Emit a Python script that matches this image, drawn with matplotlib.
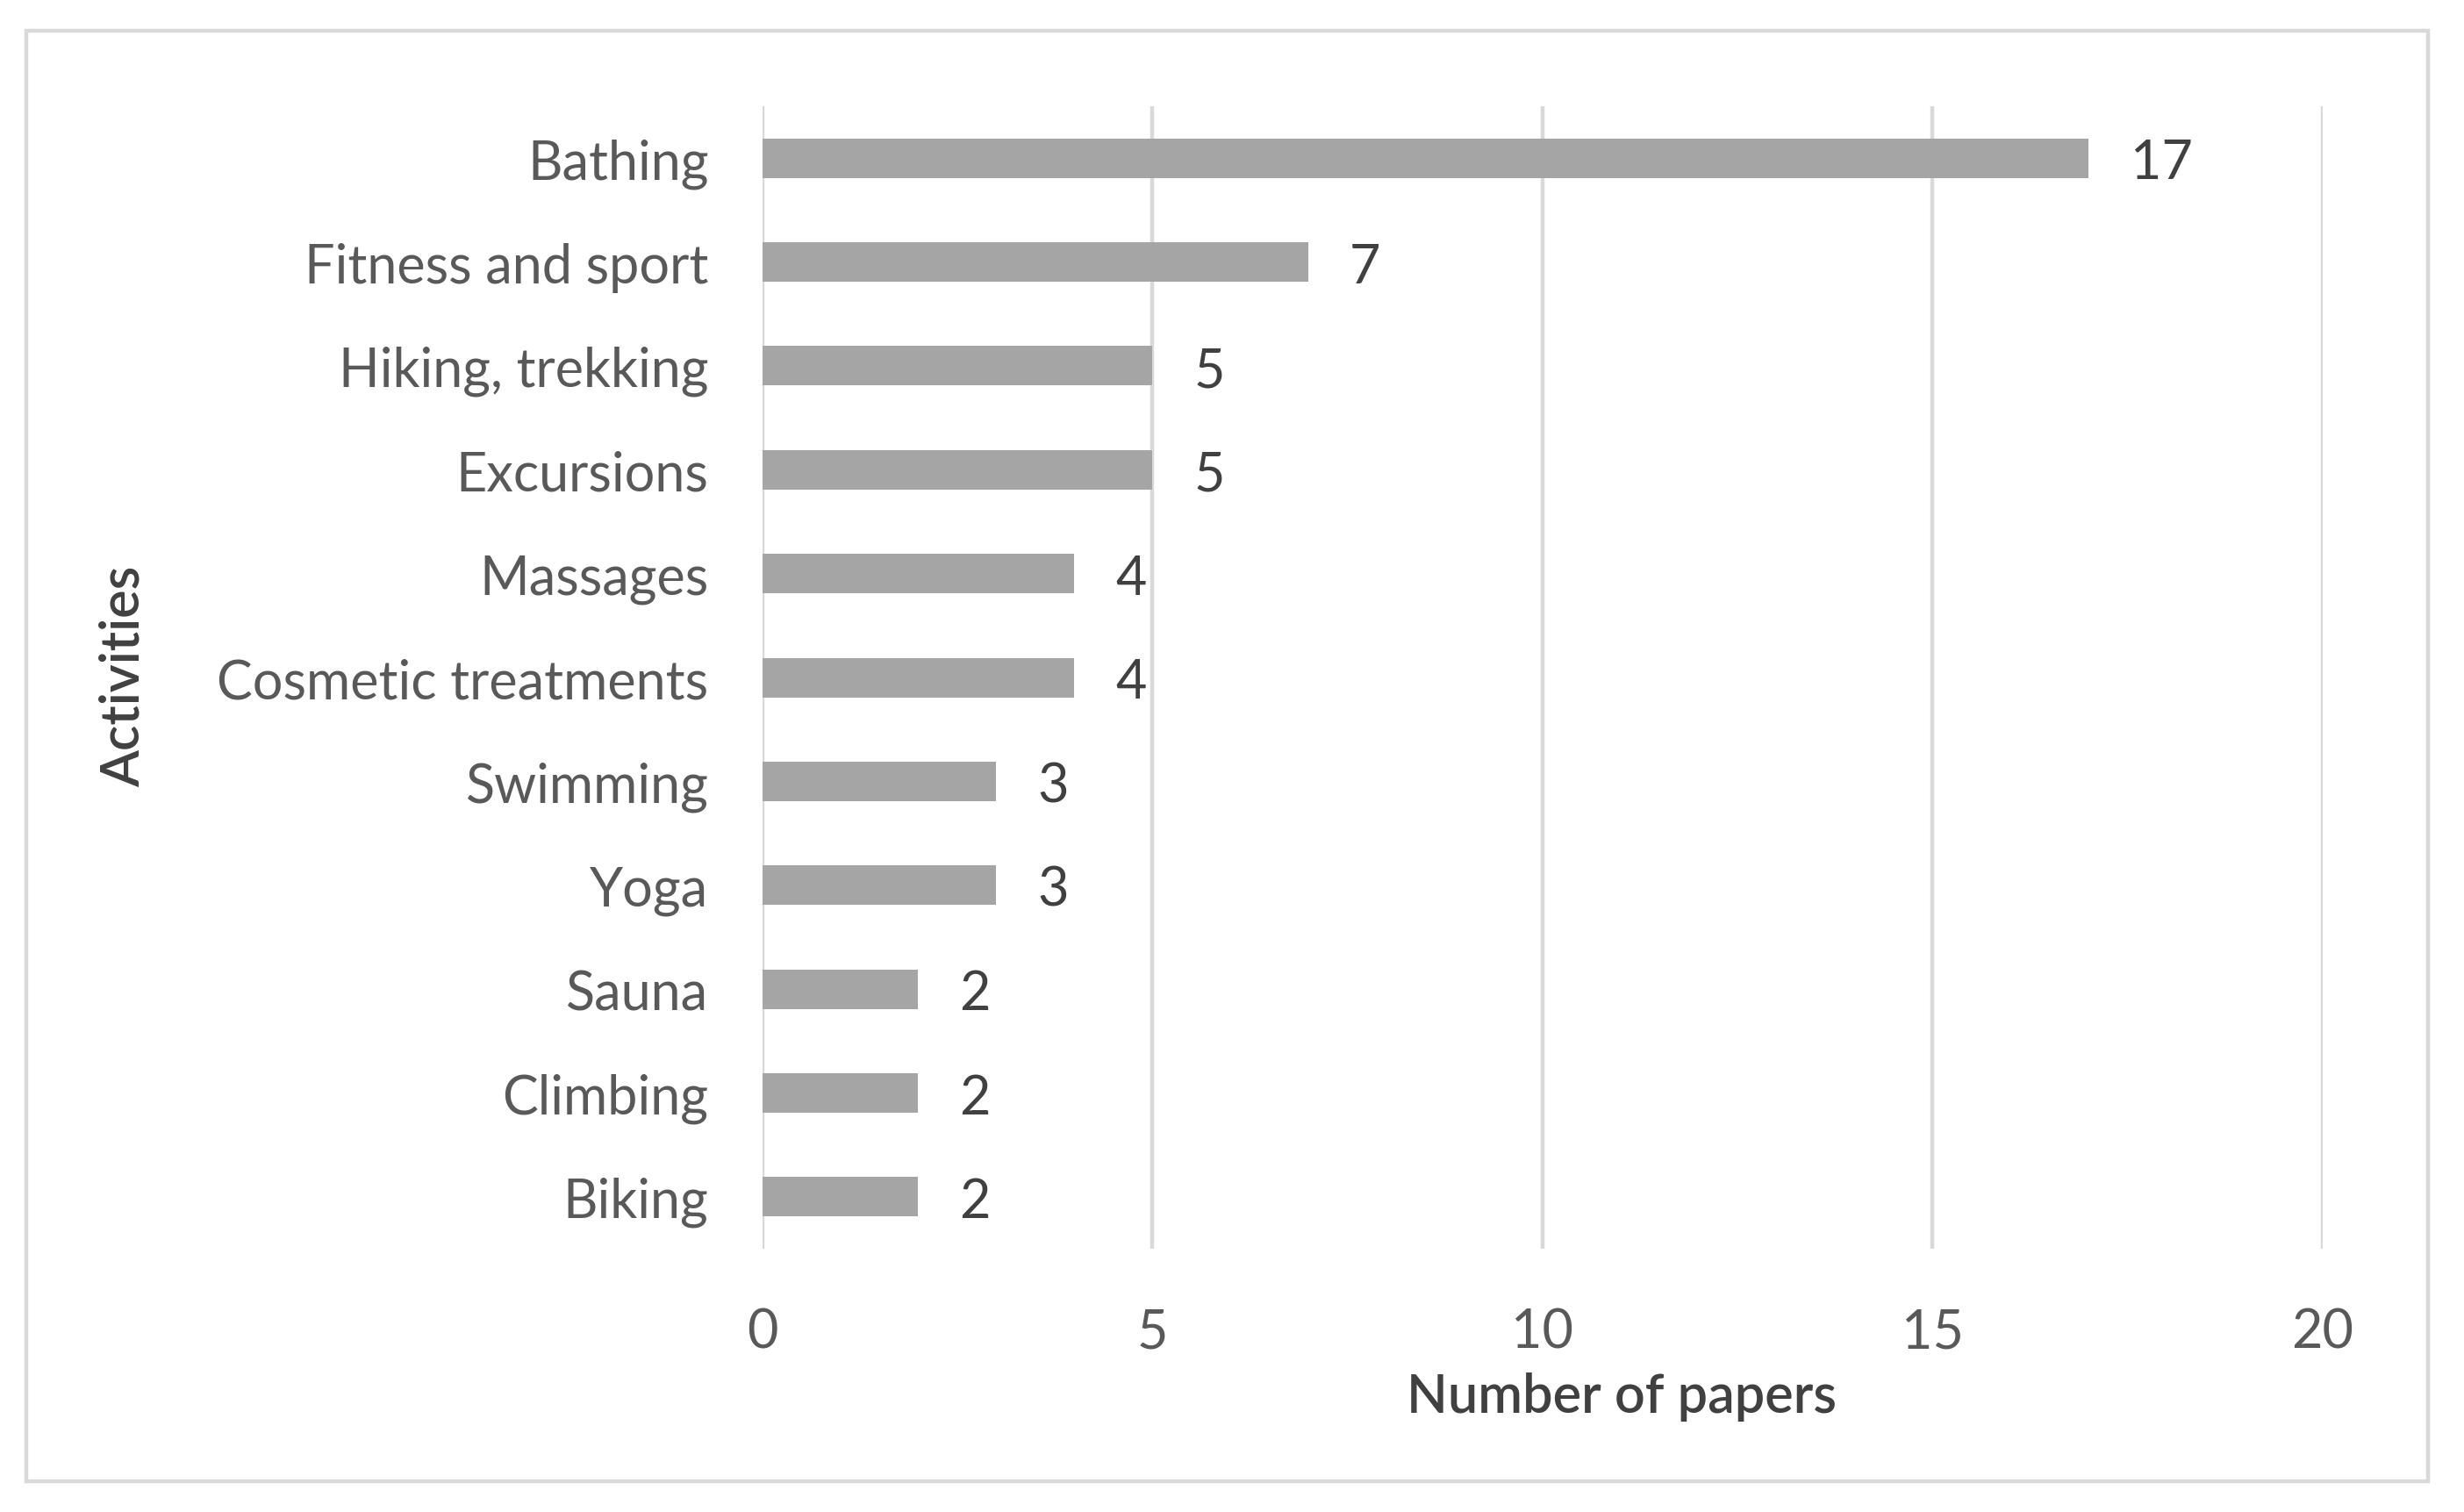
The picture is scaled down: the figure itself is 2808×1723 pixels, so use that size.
import matplotlib.pyplot as plt
from matplotlib.patches import Rectangle

# Data
activities = ['Bathing', 'Fitness and sport', 'Hiking, trekking', 'Excursions',
              'Massages', 'Cosmetic treatments', 'Swimming', 'Yoga', 'Sauna',
              'Climbing', 'Biking']
papers = [17, 7, 5, 5, 4, 4, 3, 3, 2, 2, 2]
x_ticks = [0, 5, 10, 15, 20]

plt.rcParams['font.family'] = ['Lato', 'DejaVu Sans']

fig = plt.figure(figsize=(14.04, 8.62), dpi=200)
ax = fig.add_axes([0.3093, 0.1740, 0.6334, 0.7552])

ypos = list(range(len(activities)))
bars = ax.barh(ypos, papers, height=0.38, color='#a5a5a5', zorder=3)
ax.set_ylim(len(activities) - 0.5, -0.5)
ax.set_xlim(0, 20)
ax.set_xticks(x_ticks)
ax.set_yticks(ypos)
ax.set_yticklabels(activities)

for b, v in zip(bars, papers):
    ax.annotate(str(v), (b.get_width(), b.get_y() + b.get_height() / 2),
                xytext=(17, -2), textcoords='offset points', va='center',
                ha='left', fontsize=22, color='#404040')

ax.grid(axis='x', color='#d9d9d9', linewidth=1.6, zorder=0)
for s in ax.spines.values():
    s.set_visible(False)
ax.tick_params(axis='both', length=0, labelsize=22, labelcolor='#595959')
ax.tick_params(axis='y', pad=22)
ax.tick_params(axis='x', pad=24)

fig.text(0.658, 0.0768, 'Number of papers', ha='center', va='center',
         fontsize=22, color='#404040', fontweight='semibold')
fig.text(0.0500, 0.553, 'Activities', ha='center', va='center', rotation=90,
         fontsize=22, color='#404040', fontweight='semibold')

fig.patches.append(Rectangle((0.0107, 0.0203), 0.9747, 0.9587,
                             transform=fig.transFigure, fill=False,
                             edgecolor='#d9d9d9', linewidth=1.6))

fig.savefig('out.png', dpi=200)
